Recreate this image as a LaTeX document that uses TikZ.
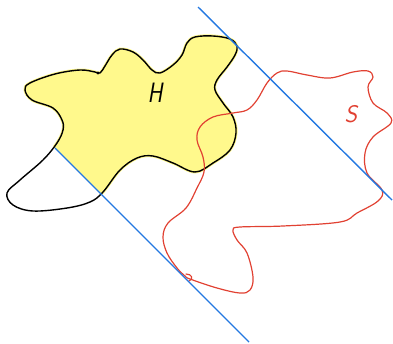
\documentclass[tikz,border=0pt]{standalone}
\usepackage{fontspec}
\begin{document}
\begin{tikzpicture}[x=1pt,y=-1pt,
  blueline/.style={draw=cutblue,line width=1.4pt},
  blobline/.style={draw=black,line width=1.4pt,line join=round},
  redline/.style={draw=setred,line width=1.2pt,line join=round,line cap=round},
  lbl/.style={font=\sffamily\slshape\fontsize{28}{28}\selectfont,inner sep=0pt}]
\definecolor{cutblue}{RGB}{35,120,225}
\definecolor{setred}{RGB}{225,65,50}
\definecolor{hilite}{RGB}{255,249,140}
\useasboundingbox (0,0) rectangle (393,343);

% outline of H (closed, with the loop at lower left)
\def\blob{(100,73) (105,66) (112,55) (120,49) (133,52) (143,60) (152,70) (160,73)
  (173,65) (182,55) (187,43) (195,37) (213,36) (230,39) (237,46) (235,55) (227,67)
  (217,80) (215,90) (223,103) (233,117) (236,133) (230,150) (213,163) (195,172)
  (173,163) (153,156) (137,158) (120,170) (103,192) (90,202) (67,208) (33,211)
  (13,205) (7,193) (20,180) (43,160) (57,143) (63,130) (62,120) (53,108) (32,100)
  (25,90) (30,83) (55,74) (80,70) (95,72)}

% highlighter fill, kept on the upper side of the lower cutting line
\begin{scope}
  \clip (-10,83) -- (300,393) -- (400,393) -- (400,-10) -- (-10,-10) -- cycle;
  \fill[hilite,draw=hilite,line width=3pt] plot[smooth cycle,tension=0.6] coordinates {\blob};
\end{scope}
\draw[blobline] plot[smooth cycle,tension=0.6] coordinates {\blob};
\fill (98,73) circle (1.6pt);

% the set S
\draw[redline] plot[smooth cycle,tension=0.6] coordinates {
  (190,279) (217,288) (240,293) (250,290) (253,277) (247,253) (237,240) (233,230)
  (240,227) (283,226) (340,222) (357,213) (378,201) (382,190) (367,173) (365,153)
  (373,137) (391,123) (387,113) (373,103) (368,87) (373,77) (368,71) (353,72)
  (330,78) (307,75) (287,71) (277,73) (267,83) (257,100) (247,110) (233,113)
  (213,117) (200,127) (197,140) (203,157) (204,172) (197,188) (186,208) (168,223)
  (163,237) (167,253) (177,268) (185,276)};
\draw[redline] (186,274) .. controls (192,274) and (194,279) .. (189,281);

% the two parallel cutting lines
\coordinate (a1) at (198,7);
\coordinate (a2) at (392,200);
\coordinate (b1) at (55,148);
\coordinate (b2) at (249,342);
\draw[blueline] (a1) -- (a2);
\draw[blueline] (b1) -- (b2);

% labels
\node[lbl,xscale=0.8] (h) at (155,93) {H};
\node[lbl,text=setred,font=\sffamily\slshape\fontsize{24}{24}\selectfont] (s) at (351,114) {S};
\end{tikzpicture}
\end{document}
